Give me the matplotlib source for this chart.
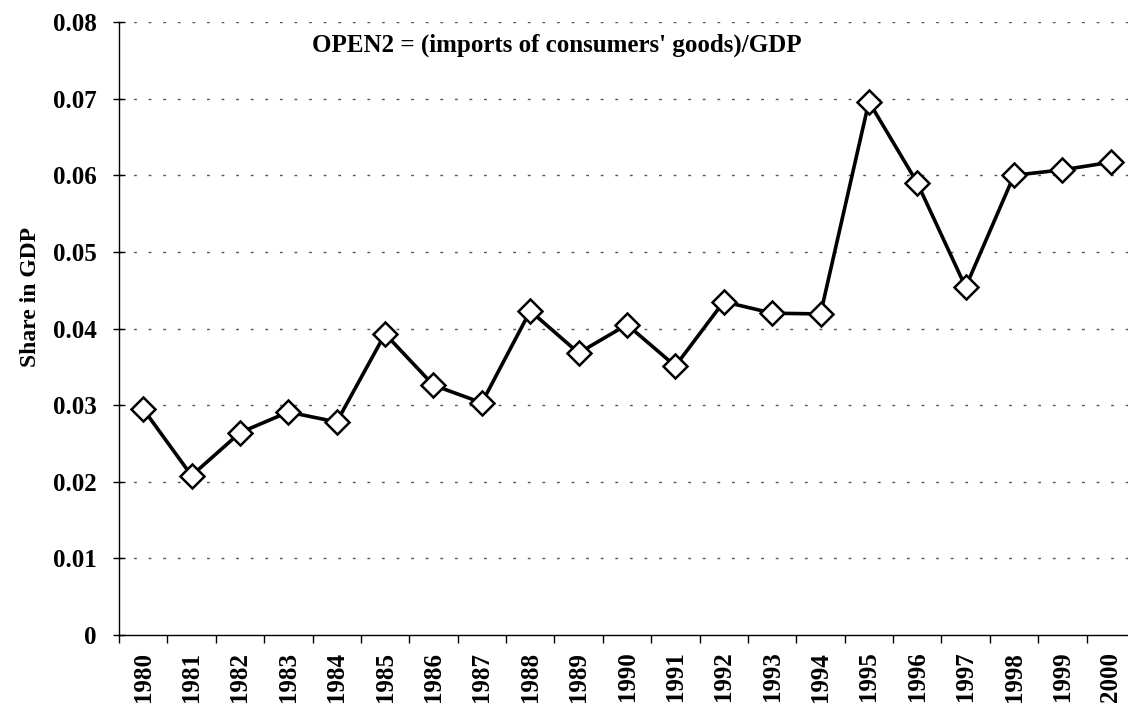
import matplotlib
matplotlib.use("Agg")
import matplotlib.pyplot as plt

years = [str(y) for y in range(1980, 2001)]
share = [0.0295, 0.0208, 0.0264, 0.0291, 0.0278, 0.0393, 0.0326, 0.0303,
         0.0423, 0.0368, 0.0405, 0.0351, 0.0435, 0.0420, 0.0419, 0.0696,
         0.0590, 0.0454, 0.0600, 0.0607, 0.0617]
yticks = [0, 0.01, 0.02, 0.03, 0.04, 0.05, 0.06, 0.07, 0.08]
ytick_labels = ["0", "0.01", "0.02", "0.03", "0.04", "0.05", "0.06", "0.07", "0.08"]
title_text = "OPEN2 = (imports of consumers' goods)/GDP"
ylabel_text = "Share in GDP"

plt.rcParams['font.family'] = ['Liberation Serif', 'DejaVu Serif']

fig = plt.figure(figsize=(11.28, 7.07), dpi=100)
ax = fig.add_axes([119 / 1128, 72 / 707, 1016 / 1128, 613 / 707])

x = list(range(len(years)))
ax.plot(x, share, color='black', lw=2.6, marker='D', markersize=12.5,
        markerfacecolor='white', markeredgecolor='black', markeredgewidth=1.8,
        zorder=3)

ax.set_xlim(-0.5, len(years) - 0.5)
ax.set_ylim(0, 0.08)
ax.set_yticks(yticks)
ax.set_yticklabels(ytick_labels, fontsize=18, fontweight='bold')
ax.set_xticks(x)
ax.set_xticklabels(years, rotation=90, fontsize=18, fontweight='bold')
ax.tick_params(axis='x', length=0, pad=12)
ax.set_xticks([i - 0.5 for i in x], minor=True)
ax.tick_params(axis='x', which='minor', length=6, direction='out', width=1)
ax.tick_params(axis='y', length=8, direction='inout', width=1, pad=12)

for v in yticks[1:]:
    ax.axhline(v, color='#555555', lw=1.0, ls=(0, (2, 8.5)), zorder=1)

for s in ['top', 'right']:
    ax.spines[s].set_visible(False)
ax.spines['left'].set_linewidth(1.0)
ax.spines['bottom'].set_linewidth(1.0)

ax.text(0.431, 0.962, title_text, transform=ax.transAxes, ha='center', va='center',
        fontsize=18, fontweight='bold')
fig.text(31 / 1128, 1 - 297 / 707, ylabel_text, rotation=90, ha='center', va='center',
         fontsize=17, fontweight='bold')

fig.savefig("out.png", dpi=100)
